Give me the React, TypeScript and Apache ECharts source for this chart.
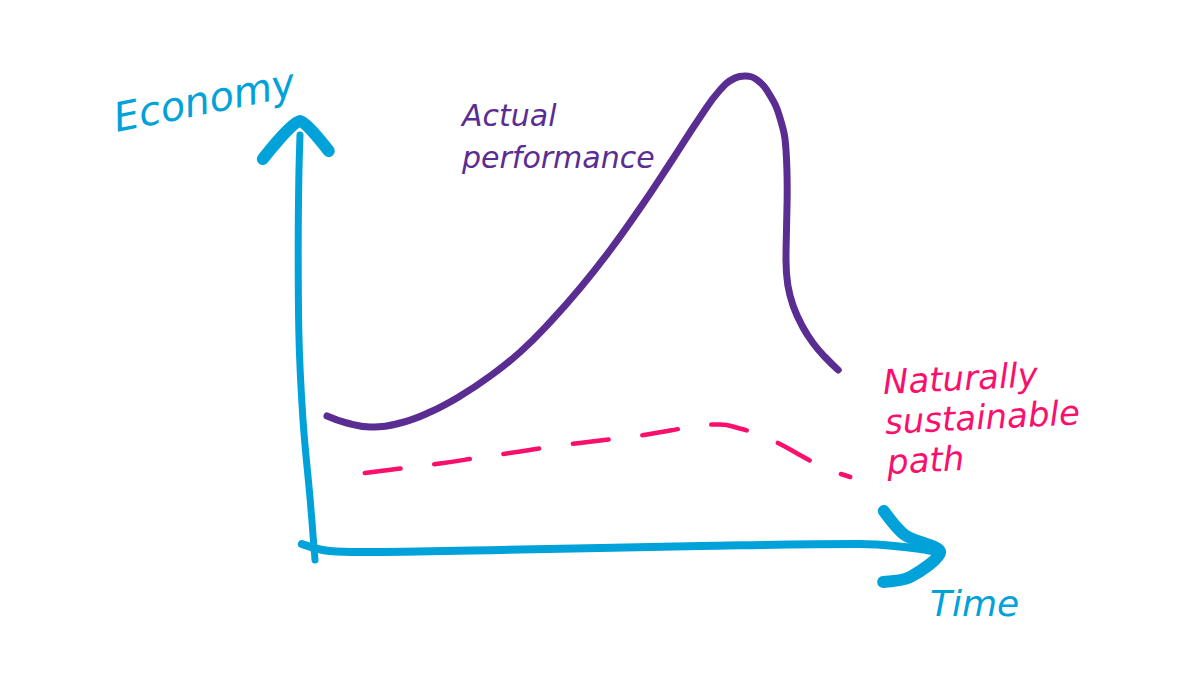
import React, { useEffect, useRef } from "react";
import * as echarts from "echarts";

// Sketch data: [time, economy] in abstract units
const actualPerformance: [number, number][] = [
  [4.5, 26.8], [7.8, 25.4], [11.7, 24.6], [16.7, 25.4], [21.7, 27.6],
  [26.7, 30.8], [31.7, 34.8], [36.7, 39.6], [41.7, 45.6], [46.7, 52.4],
  [51.7, 60], [56.7, 68.4], [61.7, 77.4], [66.7, 86.6], [70, 92],
  [72.5, 94.4], [74.2, 94.8], [76.2, 94], [78.3, 91], [80, 86.4],
  [81, 80], [81.2, 72], [81.1, 65], [81, 58], [81.3, 53],
  [82.2, 48.8], [83.7, 44.8], [85.5, 41.4], [87.5, 38.6], [89.7, 36],
];

const sustainablePath: [number, number][] = [
  [10.8, 15.4], [16.7, 16.3], [23.3, 17.3], [30, 18.5], [36.7, 19.7],
  [43.3, 20.9], [50, 21.9], [56.7, 22.9], [61.7, 23.9], [66.7, 24.9],
  [70, 25.1], [73.3, 24.3], [76.7, 23], [80, 21.2], [83.3, 19],
  [86.7, 16.8], [89.2, 15.6], [91.7, 14.6],
];

// Hand-drawn axes
const economyAxisLine: [number, number][] = [
  [2.5, -2], [1.7, 10], [0.5, 26], [-0.2, 44], [-0.3, 60], [-0.2, 74], [0, 83],
];
const economyArrow: [number, number][] = [[-6.2, 78.2], [0, 85.8], [4.8, 79.8]];
const timeAxisLine: [number, number][] = [
  [0.3, 1.2], [5, -0.2], [10, -0.4], [33.3, 0], [66.7, 0.8], [93.3, 1.2], [100.8, 0.6], [105.3, -0.2],
];
const timeArrow: [number, number][] = [[97.3, 7.8], [100.8, 3], [106.7, -0.4], [101.7, -5.4], [97.2, -6.4]];

const labels = {
  economy: "Economy",
  time: "Time",
  actual: "Actual\nperformance",
  sustainable: "Naturally\nsustainable\npath",
};

const BLUE = "#00a2d9";
const PURPLE = "#5a2d92";
const PINK = "#fb0f6c";
const FONT = "'DejaVu Sans', sans-serif";

export default function App() {
  const ref = useRef<HTMLDivElement>(null);
  useEffect(() => {
    document.body.style.margin = "0";
    if (!ref.current) return;
    const chart = echarts.init(ref.current, null, { renderer: "svg" });
    const lineSeries = (name: string, data: [number, number][], color: string, width: number, smooth: number | boolean, type: any = "solid") => ({
      name,
      type: "line",
      data,
      smooth,
      showSymbol: false,
      symbol: "none",
      silent: true,
      lineStyle: { color, width, cap: "round", join: "round", type },
    });
    chart.setOption({
      animation: false,
      backgroundColor: "#ffffff",
      grid: { left: 240, right: 240, top: 50, bottom: 75 },
      xAxis: { type: "value", min: -10, max: 110, show: false, splitLine: { show: false } },
      yAxis: { type: "value", min: -10, max: 100, show: false, splitLine: { show: false } },
      series: [
        lineSeries("Economy axis", economyAxisLine, BLUE, 7, 0.4),
        lineSeries("Economy arrow", economyArrow, BLUE, 12, 0.2),
        lineSeries("Time axis", timeAxisLine, BLUE, 8, 0.4),
        lineSeries("Time arrow", timeArrow, BLUE, 12, 0.3),
        lineSeries("Actual performance", actualPerformance, PURPLE, 7, 0.45),
        lineSeries("Naturally sustainable path", sustainablePath, PINK, 4.5, 0.45, [36, 34]),
      ],
      graphic: [
        {
          type: "text", x: 118, y: 138, rotation: 0.2,
          style: { text: labels.economy, fill: BLUE, font: `italic 40px ${FONT}`, textVerticalAlign: "bottom" },
        },
        {
          type: "text", x: 930, y: 585,
          style: { text: labels.time, fill: BLUE, font: `italic 36px ${FONT}` },
        },
        {
          type: "text", x: 462, y: 94,
          style: { text: labels.actual, fill: PURPLE, font: `italic 30px ${FONT}`, lineHeight: 42 },
        },
        {
          type: "text", x: 882, y: 362, rotation: 0.05,
          style: { text: labels.sustainable, fill: PINK, font: `italic 34px ${FONT}`, lineHeight: 40 },
        },
      ],
    });
    return () => chart.dispose();
  }, []);
  return <div ref={ref} style={{ width: 1200, height: 675 }} />;
}
